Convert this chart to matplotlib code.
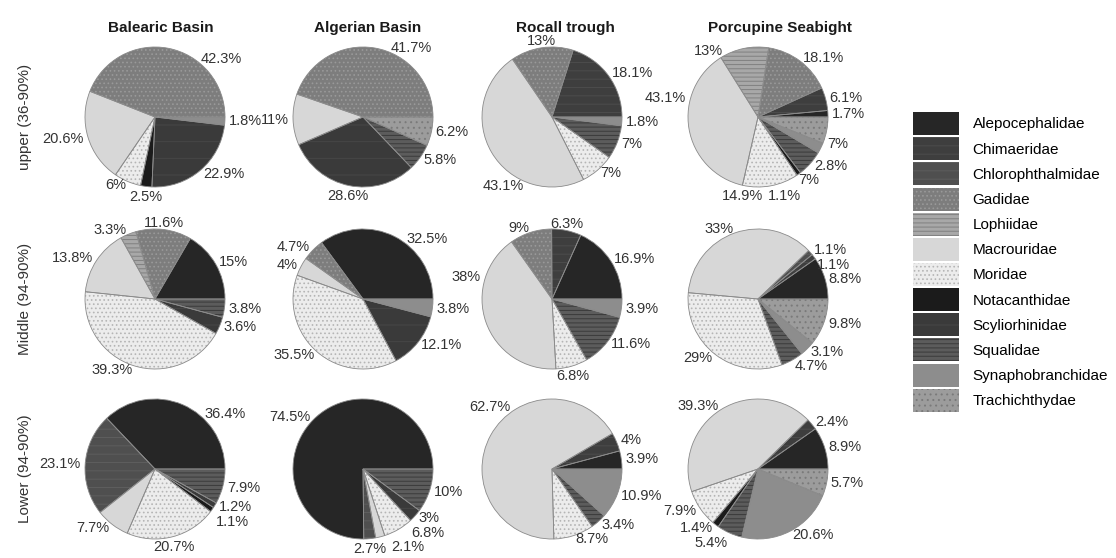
"""
Deep-sea fish family composition by basin and depth stratum
"""
import matplotlib
matplotlib.use('Agg')
import matplotlib.pyplot as plt
import numpy as np
from matplotlib.patches import Patch

plt.rcParams['font.family'] = ['Liberation Sans', 'DejaVu Sans']
plt.rcParams['hatch.linewidth'] = 0.7

W, H = 1116, 558

FAMILIES = ['Alepocephalidae', 'Chimaeridae', 'Chlorophthalmidae', 'Gadidae',
            'Lophiidae', 'Macrouridae', 'Moridae', 'Notacanthidae',
            'Scyliorhinidae', 'Squalidae', 'Synaphobranchidae', 'Trachichthydae']

# fill colour, hatch pattern, hatch colour
STYLE = {
    'Alepocephalidae':   ('#262626', None,   '#262626'),
    'Chimaeridae':       ('#3e3e3e', '--',   '#4c4c4c'),
    'Chlorophthalmidae': ('#4f4f4f', '--',   '#5e5e5e'),
    'Gadidae':           ('#7d7d7d', '....', '#999999'),
    'Lophiidae':         ('#a8a8a8', '----', '#808080'),
    'Macrouridae':       ('#d7d7d7', None,   '#d7d7d7'),
    'Moridae':           ('#ececec', '....', '#b5b5b5'),
    'Notacanthidae':     ('#1b1b1b', None,   '#1b1b1b'),
    'Scyliorhinidae':    ('#3a3a3a', '-',    '#474747'),
    'Squalidae':         ('#5c5c5c', '----', '#3a3a3a'),
    'Synaphobranchidae': ('#8d8d8d', None,   '#8d8d8d'),
    'Trachichthydae':    ('#9c9c9c', '...',  '#7a7a7a'),
}

basins = ['Balearic Basin', 'Algerian Basin', 'Rocall trough', 'Porcupine Seabight']
depths = ['upper (36-90%)', 'Middle (94-90%)', 'Lower (94-90%)']

# upper stratum
balearic_upper_fam = ['Gadidae', 'Macrouridae', 'Moridae', 'Notacanthidae',
                      'Scyliorhinidae', 'Synaphobranchidae']
balearic_upper_pct = [42.3, 20.6, 6, 2.5, 22.9, 1.8]
algerian_upper_fam = ['Gadidae', 'Macrouridae', 'Scyliorhinidae', 'Squalidae',
                      'Trachichthydae']
algerian_upper_pct = [41.7, 11, 28.6, 5.8, 6.2]
rocall_upper_fam = ['Chimaeridae', 'Gadidae', 'Macrouridae', 'Moridae',
                    'Squalidae', 'Synaphobranchidae']
rocall_upper_pct = [18.1, 13, 43.1, 7, 7, 1.8]
porcupine_upper_fam = ['Alepocephalidae', 'Chimaeridae', 'Gadidae', 'Lophiidae',
                       'Macrouridae', 'Moridae', 'Notacanthidae', 'Squalidae',
                       'Synaphobranchidae', 'Trachichthydae']
porcupine_upper_pct = [1.7, 6.1, 18.1, 13, 43.1, 14.9, 1.1, 7, 2.8, 7]

# middle stratum
balearic_mid_fam = ['Alepocephalidae', 'Gadidae', 'Lophiidae', 'Macrouridae',
                    'Moridae', 'Scyliorhinidae', 'Squalidae']
balearic_mid_pct = [15, 11.6, 3.3, 13.8, 39.3, 3.6, 3.8]
algerian_mid_fam = ['Alepocephalidae', 'Gadidae', 'Macrouridae', 'Moridae',
                    'Scyliorhinidae', 'Synaphobranchidae']
algerian_mid_pct = [32.5, 4.7, 4, 35.5, 12.1, 3.8]
rocall_mid_fam = ['Alepocephalidae', 'Chimaeridae', 'Gadidae', 'Macrouridae',
                  'Moridae', 'Squalidae', 'Synaphobranchidae']
rocall_mid_pct = [16.9, 6.3, 9, 38, 6.8, 11.6, 3.9]
porcupine_mid_fam = ['Alepocephalidae', 'Chimaeridae', 'Chlorophthalmidae',
                     'Macrouridae', 'Moridae', 'Squalidae', 'Synaphobranchidae',
                     'Trachichthydae']
porcupine_mid_pct = [8.8, 1.1, 1.1, 33, 29, 4.7, 3.1, 9.8]

# lower stratum
balearic_low_fam = ['Alepocephalidae', 'Chlorophthalmidae', 'Macrouridae', 'Moridae',
                    'Notacanthidae', 'Scyliorhinidae', 'Squalidae']
balearic_low_pct = [36.4, 23.1, 7.7, 20.7, 1.1, 1.2, 7.9]
algerian_low_fam = ['Alepocephalidae', 'Chlorophthalmidae', 'Macrouridae', 'Moridae',
                    'Scyliorhinidae', 'Squalidae']
algerian_low_pct = [74.5, 2.7, 2.1, 6.8, 3, 10]
rocall_low_fam = ['Alepocephalidae', 'Chimaeridae', 'Macrouridae', 'Moridae',
                  'Squalidae', 'Synaphobranchidae']
rocall_low_pct = [3.9, 4, 62.7, 8.7, 3.4, 10.9]
porcupine_low_fam = ['Alepocephalidae', 'Chimaeridae', 'Macrouridae', 'Moridae',
                     'Notacanthidae', 'Squalidae', 'Synaphobranchidae', 'Trachichthydae']
porcupine_low_pct = [8.9, 2.4, 39.3, 7.9, 1.4, 5.4, 20.6, 5.7]

grid = [
    [(balearic_upper_fam, balearic_upper_pct), (algerian_upper_fam, algerian_upper_pct),
     (rocall_upper_fam, rocall_upper_pct), (porcupine_upper_fam, porcupine_upper_pct)],
    [(balearic_mid_fam, balearic_mid_pct), (algerian_mid_fam, algerian_mid_pct),
     (rocall_mid_fam, rocall_mid_pct), (porcupine_mid_fam, porcupine_mid_pct)],
    [(balearic_low_fam, balearic_low_pct), (algerian_low_fam, algerian_low_pct),
     (rocall_low_fam, rocall_low_pct), (porcupine_low_fam, porcupine_low_pct)],
]

# layout in pixels (from top-left)
col_x = [155, 363, 552, 758]
row_y = [117, 299, 469]
title_x = [161, 368, 565, 780]
title_y = 28
R = 70
SPAN = 1.6

# a few labels sit away from their wedge's mid-angle (row, col, wedge) -> degrees
LABEL_ANGLE = {
    (0, 0, 0): 52, (0, 1, 0): 68, (0, 2, 2): 248,
    (0, 3, 3): 118, (0, 3, 4): 165, (0, 3, 5): 258, (0, 3, 6): 281,
    (0, 3, 7): 303, (0, 3, 8): 319, (0, 3, 9): 339,
    (1, 1, 0): 54, (1, 2, 3): 163,
    (2, 0, 0): 48, (2, 1, 3): 311, (2, 2, 2): 124,
}


def place_labels(ax, wedges, pct, key):
    """Outside-end labels, nudged apart so small wedges stay readable."""
    side_items, top_items, bottom_items = [], [], []
    for i, (w, v) in enumerate(zip(wedges, pct)):
        deg = LABEL_ANGLE.get(key + (i,), (w.theta1 + w.theta2) / 2)
        ang = np.deg2rad(deg)
        c, s = np.cos(ang), np.sin(ang)
        text = f'{v:g}%'
        if abs(c) < 0.3:
            if s > 0:
                top_items.append([1.0 * c, 1.0 * s, text, 'center', 'bottom'])
            else:
                bottom_items.append([1.05 * c, 1.05 * s, text, 'center', 'top'])
        else:
            side_items.append([1.06 * c, 1.06 * s, text, 'left' if c > 0 else 'right', 'center'])

    gap = 0.21
    for side in (1, -1):
        group = sorted([it for it in side_items if np.sign(it[0]) == side],
                       key=lambda it: -it[1])
        for i in range(1, len(group)):
            if group[i - 1][1] - group[i][1] < gap and abs(group[i][0] - group[i - 1][0]) < 0.6:
                group[i][1] = group[i - 1][1] - gap
    for group in (top_items, bottom_items):
        group.sort(key=lambda it: it[0])
        for i in range(1, len(group)):
            min_dx = 0.06 * (len(group[i][2]) + len(group[i - 1][2])) + 0.06
            if group[i][0] - group[i - 1][0] < min_dx:
                group[i][0] = group[i - 1][0] + min_dx

    for x, y, text, ha, va in side_items + top_items + bottom_items:
        ax.text(x, y, text, ha=ha, va=va, fontsize=10.5, color='#333333')


fig = plt.figure(figsize=(W / 100, H / 100), dpi=100)
fig.patch.set_facecolor('white')

for r, row in enumerate(grid):
    for c, (fams, pct) in enumerate(row):
        cx, cy = col_x[c], row_y[r]
        ax = fig.add_axes([(cx - R * SPAN) / W, (H - cy - R * SPAN) / H,
                           2 * R * SPAN / W, 2 * R * SPAN / H])
        colors = [STYLE[f][0] for f in fams]
        hatches = [STYLE[f][1] for f in fams]
        wedges, _ = ax.pie(pct, colors=colors, hatch=hatches, startangle=0,
                           counterclock=True, radius=1,
                           wedgeprops=dict(linewidth=0))
        for w, f in zip(wedges, fams):
            w.set_edgecolor(STYLE[f][2])
            w.set_linewidth(0)
        # thin separators and rim on top of the fills
        ax.pie(pct, startangle=0, counterclock=True, radius=1,
               wedgeprops=dict(fill=False, edgecolor='#8a8a8a', linewidth=0.6))
        ax.set_xlim(-SPAN, SPAN)
        ax.set_ylim(-SPAN, SPAN)
        ax.set_aspect('equal')
        ax.axis('off')
        place_labels(ax, wedges, pct, (r, c))

for c, name in enumerate(basins):
    fig.text(title_x[c] / W, 1 - title_y / H, name, ha='center', va='center',
             fontsize=11, fontweight='bold', color='#1a1a1a')

for r, name in enumerate(depths):
    fig.text(25 / W, 1 - row_y[r] / H, name, rotation=90, ha='center', va='center',
             fontsize=11, color='#333333')

handles = [Patch(facecolor=STYLE[f][0], hatch=STYLE[f][1], edgecolor=STYLE[f][2],
                 linewidth=0) for f in FAMILIES]
fig.legend(handles, FAMILIES, loc='upper left', bbox_to_anchor=(907 / W, 1 - 106 / H),
           frameon=False, fontsize=11, handlelength=3.0, handleheight=1.94,
           labelspacing=0.14, handletextpad=0.9, borderaxespad=0)

fig.savefig('out.png', dpi=100, facecolor='white')
plt.close(fig)
